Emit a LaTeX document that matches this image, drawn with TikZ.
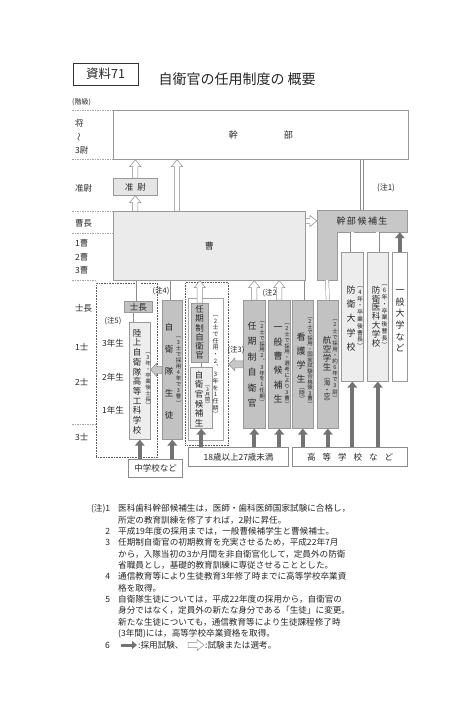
\documentclass[tikz,border=0pt]{standalone}
\usepackage{fontspec}
\setmainfont{Noto Sans CJK JP}
\usetikzlibrary{arrows.meta, positioning, calc}

% vertical (tategaki) text: one character per line
\makeatletter
\newcommand\tate[2][10pt]{\vbox{\baselineskip=#1\lineskiplimit=0pt\lineskip=0.5pt
  \@tfor\tate@c:=#2\do{\hbox to 1em{\hss\tate@c\hss}}}}
\makeatother
\newcommand\chunum[1]{\makebox[24pt][r]{#1}\hspace{8pt}}

\tikzstyle{box} = [rectangle, anchor=north west, inner sep=0pt, draw=black!40, line width=0.6pt]
\tikzstyle{pale} = [box, fill=black!7]
\tikzstyle{midgray} = [box, fill=black!24]
\tikzstyle{base} = [box, fill=white, draw=black!45, line width=1.1pt]
\tikzstyle{dotbox} = [box, draw=black!65, densely dotted, line width=0.9pt]
\tikzstyle{lbl} = [anchor=west, inner sep=0pt]
\tikzstyle{tatetext} = [inner sep=0pt]
\tikzstyle{notetext} = [inner sep=0pt, font=\fontsize{5.5}{6}\selectfont]
\tikzstyle{chu} = [inner sep=0pt, font=\fontsize{7.5}{9}\selectfont]
\tikzstyle{rowline} = [draw=black!35, dash pattern=on 1.5pt off 1pt, line width=0.5pt]
\tikzstyle{dbar} = [draw=black!45, double=white, double distance=2.8pt, line width=0.5pt]
\tikzstyle{exam} = [draw=black!55, line width=3.8pt, -{Triangle[width=9.5pt,length=6pt]}]
\tikzset{
  fat/.style n args={3}{to path={
    -- ($(\tikztostart)!#1!90:(\tikztotarget)$)
    -- ($($(\tikztotarget)!#3!(\tikztostart)$)!#1!90:(\tikztotarget)$)
    -- ($($(\tikztotarget)!#3!(\tikztostart)$)!#2!90:(\tikztotarget)$)
    -- (\tikztotarget)
    -- ($($(\tikztotarget)!#3!(\tikztostart)$)!#2!-90:(\tikztotarget)$)
    -- ($($(\tikztotarget)!#3!(\tikztostart)$)!#1!-90:(\tikztotarget)$)
    -- ($(\tikztostart)!#1!-90:(\tikztotarget)$)
    -- cycle}},
  hollow/.style={draw=black!45, fill=white, line width=0.5pt, fat={2.6pt}{5.6pt}{7pt}},
  shiftarr/.style={draw=black!45, fill=black!22, line width=0.5pt, fat={3.5pt}{6.5pt}{6pt}}
}

\begin{document}
\begin{tikzpicture}[x=1pt, y=-1pt, font=\fontsize{8.5}{10}\selectfont, every node/.style={text=black!85}]
\useasboundingbox (0,0) rectangle (463,720);

% Title
\node[draw=black!80, line width=0.7pt, minimum width=65, minimum height=22, font=\fontsize{12.5}{14}\selectfont] (shiryo) at (105.5,74) {資料71};
\node[anchor=west, font=\fontsize{14}{16}\selectfont] (title) at (155,79) {自衛官の任用制度の\hspace{3pt}概要};
\node[lbl, font=\fontsize{7}{8}\selectfont] (kaikyu) at (72,102) {(階級)};

% Rank rows
\foreach \y in {110,159,211,233}
  \draw[rowline] (72,\y) -- (113,\y);
\foreach \y in {280,424}
  \draw[rowline] (72,\y) -- (96,\y);

\node[lbl] (shou) at (75,123) {将};
\node[rotate=90, inner sep=0pt] (kara) at (80,137) {〜};
\node[lbl] (sani) at (75,150) {3尉};
\node[lbl] (juni) at (75,188) {准尉};
\node[lbl] (socho) at (75,223) {曹長};
\foreach \n/\y in {1/243,2/257,3/270}
  \node[lbl] (sou\n) at (75,\y) {\n{}曹};
\node[lbl] (shicholbl) at (75,308) {士長};
\foreach \n/\y in {1/347,2/382,3/437}
  \node[lbl] (shi\n) at (75,\y) {\n{}士};

% Groups (dotted)
\node[dotbox, minimum width=61, minimum height=174] (chu5box) at (96,283) {};
\node[dotbox, minimum width=43, minimum height=163] (ninkibox) at (185,282) {};
\node[box, fill=white, draw=black!35, minimum width=35, minimum height=142] (whitebox) at (188,298) {};
\foreach \n/\y in {3/343,2/377,1/410}
  \node[lbl] (nen\n) at (102,\y) {\n{}年生};

% Upper boxes
\node[box, fill=white, minimum width=295, minimum height=49, font=\fontsize{9}{10}\selectfont] (kanbu) at (113,110) {幹\hspace{46pt}部};
\node[box, fill=black!10, minimum width=44, minimum height=17] (jun) at (113,178) {准\hspace{4pt}尉};
\node[box, fill=black!8, minimum width=192, minimum height=69, font=\fontsize{9}{10}\selectfont] (sou) at (113,211) {曹};
\draw[draw=black!40, line width=0.6pt, fill=black!22] (317,210) -- (407,210) -- (407,232) -- (337,232) -- (337,280) -- (317,280) -- cycle;
\node[minimum width=90, minimum height=22, inner sep=0pt, font=\fontsize{9}{10}\selectfont] (kouho) at (362,221) {幹\,部\,候\,補\,生};
\coordinate (kouhofoot) at (327,280);

% Columns
\node[midgray, minimum width=28, minimum height=11] (shicho) at (124,301) {士長};
\node[pale, minimum width=21, minimum height=117] (ritsu) at (129,322) {};
\node[midgray, minimum width=20, minimum height=139] (seito) at (162,300) {};
\node[midgray, minimum width=17, minimum height=59] (ninkiA) at (191,303) {};
\node[pale, minimum width=22, minimum height=61] (kouhoJ) at (190,367) {};
\node[midgray, minimum width=22, minimum height=128] (ninkiB) at (243,300) {};
\node[midgray, minimum width=22, minimum height=128] (ippan) at (268,300) {};
\node[midgray, minimum width=21, minimum height=128] (kango) at (292,300) {};
\node[midgray, minimum width=21, minimum height=128] (koukuu) at (317,300) {};
\node[pale, minimum width=22, minimum height=129] (bouei) at (341,252) {};
\node[pale, minimum width=21, minimum height=129] (boui) at (367,252) {};
\node[box, fill=white, minimum width=15, minimum height=129] (ippandai) at (392,252) {};

% Column texts
\node[tatetext] (ritsuT) at (137,381.5) {\tate[9.7pt]{陸上自衛隊高等工科学校}};
\node[notetext] (ritsuN) at (148,380) {\tate[6.1pt]{︵3年・卒業後士長︶}};
\node[tatetext] (seitoT) at (169,371) {\tate[22pt]{自衛隊生徒}};
\node[notetext] (seitoN) at (178.5,371) {\tate[6.1pt]{︵3士で採用4年で3曹︶}};
\node[tatetext] (ninkiAT) at (199.5,332.5) {\tate[9.3pt]{任期制自衛官}};
\node[tatetext] (kouhoJT) at (199,399) {\tate[9.6pt]{自衛官候補生}};
\node[notetext, font=\fontsize{5}{6}\selectfont] (kouhoJN) at (207.5,396) {\tate[4.8pt]{︵3月間︶}};
\node[notetext, font=\fontsize{6}{7}\selectfont] (ninkiAN) at (215.5,366) {\tate[6.7pt]{︵2士で任用・2︑3年を1任期︶}};
\node[tatetext, font=\fontsize{9}{10}\selectfont] (ninkiBT) at (252,364.5) {\tate[15.4pt]{任期制自衛官}};
\node[notetext] (ninkiBN) at (262,363) {\tate[5.8pt]{︵2士で採用2︑3年を1任期︶}};
\node[tatetext, font=\fontsize{9}{10}\selectfont] (ippanT) at (278,365) {\tate[14.4pt]{一般曹候補生}};
\node[notetext] (ippanN) at (287,365) {\tate[5.8pt]{︵2士で採用・選考により3曹︶}};
\node[tatetext, font=\fontsize{9}{10}\selectfont] (kangoT) at (301,358) {\tate[14pt]{看護学生}};
\node[notetext, font=\fontsize{6}{7}\selectfont] (kangoP) at (302,395) {\tate[6pt]{︵陸︶}};
\node[notetext] (kangoN) at (310,361.5) {\tate[5.5pt]{︵2士で採用・国家試験合格後3曹︶}};
\node[tatetext] (koukuuT) at (327,354) {\tate[9pt]{航空学生}};
\node[notetext, font=\fontsize{6.5}{7}\selectfont] (koukuuP) at (327,391.5) {\tate[6.3pt]{︵海・空︶}};
\node[notetext] (koukuuN) at (335,360) {\tate[6.1pt]{︵2士で採用・約6年で3尉︶}};
\node[tatetext, font=\fontsize{9}{10}\selectfont] (boueiT) at (351,318.5) {\tate[14.3pt]{防衛大学校}};
\node[notetext, font=\fontsize{6}{7}\selectfont] (boueiN) at (360,317.5) {\tate[6.8pt]{︵4年・卒業後曹長︶}};
\node[tatetext] (bouiT) at (376,316.5) {\tate[8.8pt]{防衛医科大学校}};
\node[notetext, font=\fontsize{6}{7}\selectfont] (bouiN) at (384.5,316) {\tate[6.8pt]{︵6年・卒業後曹長︶}};
\node[tatetext, font=\fontsize{9}{10}\selectfont] (ippandaiT) at (400,321) {\tate[11.6pt]{一般大学など}};

% Entry boxes
\node[base, minimum width=54, minimum height=18] (chugaku) at (128,459) {中学校など};
\node[base, minimum width=100, minimum height=19] (age18) at (188,447) {18歳以上27歳未満};
\node[base, minimum width=115, minimum height=19] (koko) at (292,447) {高\hspace{7pt}等\hspace{7pt}学\hspace{7pt}校\hspace{7pt}な\hspace{7pt}ど};

% Notes on the chart
\node[chu, font=\fontsize{8}{9}\selectfont] (chu1) at (386,188) {(注1)};
\node[chu] (chu2) at (271,293) {(注2)};
\node[chu] (chu3) at (236,350) {(注3)};
\node[chu] (chu4) at (161,291) {(注4)};
\node[chu] (chu5) at (113,321) {(注5)};

% Promotion by exam or selection
\draw[hollow] (sou.north -| jun.center) to (jun.south);
\draw[hollow] (jun.north) to (kanbu.south -| jun.center);
\draw[hollow] ([xshift=64pt]sou.north west) to ([xshift=64pt]kanbu.south west);
\draw[hollow] (sou.east |- kouho.west) to (kouho.west);
\foreach \c in {ninkiA, ninkiB, ippan}
  \draw[hollow] (\c.north) to (sou.south -| \c.north);

% Plain links
\draw[dbar] (kouho.north) -- (kanbu.south -| kouho.north);
\draw[dbar] (sou.south -| shicho.north) -- (shicho.north);
\draw[dbar] (sou.south -| seito.north) -- (seito.north);
\draw[dbar] ($(shicho.south)+(-3,0)$) -- ($(shicho.south |- ritsu.north)+(-3,0)$);
\draw[dbar] (ninkiA.south) -- (kouhoJ.north -| ninkiA.south);
\draw[dbar] (kango.north) -- (sou.south -| kango.north);
\draw[dbar] (koukuu.north) -- (kouhofoot);
\foreach \c in {bouei, boui}
  \draw[dbar] (\c.north) -- (kouho.south -| \c.north);

% Transfers
\draw[shiftarr] (seito.west) to (ritsu.east |- seito.west);
\draw[shiftarr] (ninkiB.west) to (ninkibox.east |- ninkiB.west);

% Recruitment exams
\draw[exam] (ippandai.north) -- (kouho.south -| ippandai.north);
\foreach \c in {ritsu, seito}
  \draw[exam] (chugaku.north -| \c.south) -- (\c.south);
\foreach \c in {kouhoJ, ninkiB, ippan}
  \draw[exam] (age18.north -| \c.south) -- (\c.south);
\foreach \c in {kango, koukuu, bouei, boui}
  \draw[exam] (koko.north -| \c.south) -- (\c.south);

% Footnotes
\node[anchor=north west, align=left, inner sep=0pt, font=\fontsize{8.6}{11.33}\selectfont] (notes) at (86,504.5) {
  \chunum{(注)1}医科歯科幹部候補生は，医師・歯科医師国家試験に合格し，\\
  \chunum{}所定の教育訓練を修了すれば，2尉に昇任。\\
  \chunum{2}平成19年度の採用までは，一般曹候補学生と曹候補士。\\
  \chunum{3}任期制自衛官の初期教育を充実させるため，平成22年7月\\
  \chunum{}から，入隊当初の3か月間を非自衛官化して，定員外の防衛\\
  \chunum{}省職員とし，基礎的教育訓練に専従させることとした。\\
  \chunum{4}通信教育等により生徒教育3年修了時までに高等学校卒業資\\
  \chunum{}格を取得。\\
  \chunum{5}自衛隊生徒については，平成22年度の採用から，自衛官の\\
  \chunum{}身分ではなく，定員外の新たな身分である「生徒」に変更。\\
  \chunum{}新たな生徒についても，通信教育等により生徒課程修了時\\
  \chunum{}(3年間)には，高等学校卒業資格を取得。
};

% Legend
\node[anchor=east, inner sep=0pt, font=\fontsize{8.6}{10}\selectfont] (leg6) at (110,645) {6};
\coordinate (legA) at (121,645);
\coordinate (legB) at (137,645);
\draw[exam, line width=3pt, -{Triangle[width=8pt,length=5pt]}] (legA) -- (legB);
\node[lbl, font=\fontsize{8.6}{10}\selectfont] (legexam) at (138,645) {:採用試験、};
\coordinate (legC) at (188,645);
\coordinate (legD) at (204,645);
\draw[hollow] (legC) to (legD);
\node[lbl, font=\fontsize{8.6}{10}\selectfont] (legsel) at (205,645) {:試験または選考。};

\end{tikzpicture}
\end{document}
